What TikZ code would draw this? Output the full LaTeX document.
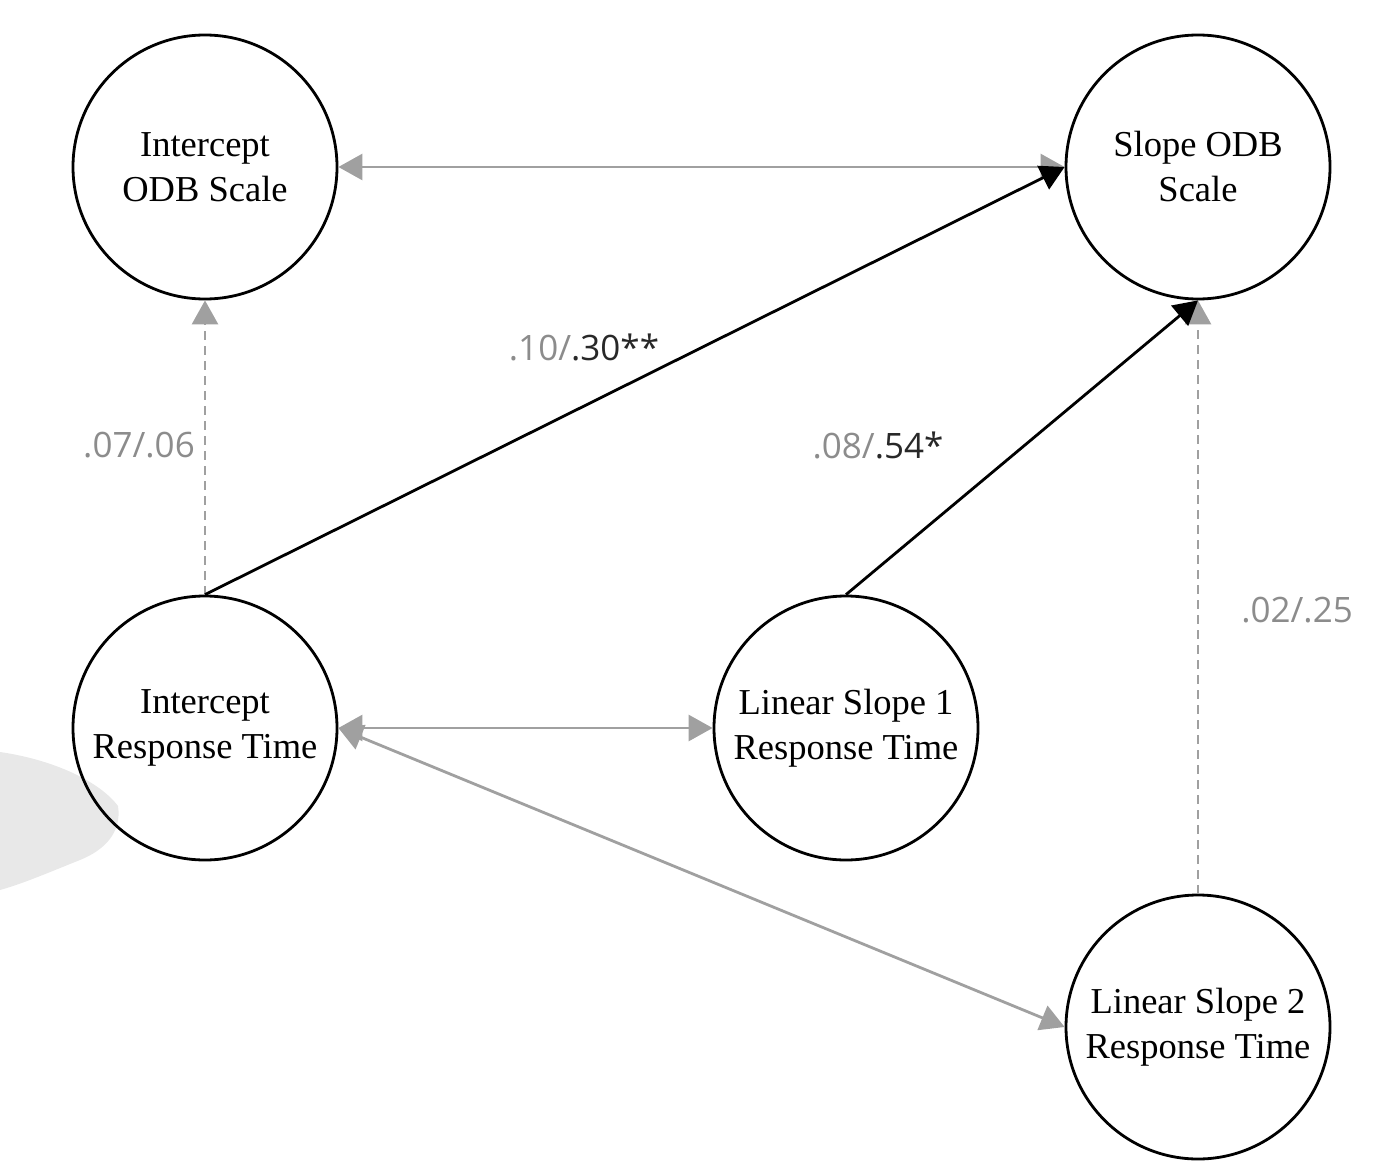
\documentclass[tikz,border=0pt]{standalone}
\usepackage{fontspec}
\setmainfont{Liberation Serif}
\newfontfamily\labfont{Open Sans}
\usetikzlibrary{arrows.meta}
\definecolor{lgrey}{RGB}{160,160,160}
\definecolor{tgrey}{RGB}{140,140,140}
\definecolor{dtext}{RGB}{40,40,40}
\begin{document}
\begin{tikzpicture}[x=1pt,y=-1pt,
  latent/.style={circle,draw=black,line width=2.8pt,minimum size=264pt,inner sep=0pt,
    align=center,font=\fontsize{36.5}{45}\selectfont},
  blackpath/.style={draw=black,line width=2.8pt,-{Triangle[length=24pt,width=26pt]}},
  greypath/.style={draw=lgrey,line width=2.8pt,-{Triangle[length=24pt,width=26pt]}},
  greydouble/.style={draw=lgrey,line width=2.8pt,{Triangle[length=24pt,width=26pt]}-{Triangle[length=24pt,width=26pt]}},
  greydash/.style={greypath,dash pattern=on 9pt off 6pt},
  coef/.style={font=\labfont\fontsize{35}{40}\selectfont,text=tgrey,inner sep=0pt}]
\useasboundingbox (0,0) rectangle (1394,1174);
% light grey blob at left
\fill[black!9] (0,752) .. controls (55,760) and (100,782) .. (118,806)
  .. controls (122,832) and (105,850) .. (80,860)
  .. controls (50,872) and (22,884) .. (0,890) -- cycle;
\node[latent] (iodb) at (205,167) {Intercept\\ODB Scale};
\node[latent] (sodb) at (1198,167) {Slope ODB\\Scale};
\node[latent] (irt) at (205,728) {Intercept\\Response Time};
\node[latent] (ls1) at (846,728) {Linear Slope 1\\Response Time};
\node[latent] (ls2) at (1198,1027) {Linear Slope 2\\Response Time};
% connectors
\draw[greydouble] (iodb.east) -- (sodb.west);
\draw[greydouble] (irt.east) -- (ls1.west);
\draw[greydouble] (irt.east) -- (ls2.west);
\draw[greydash] (irt.north) -- (iodb.south);
\draw[greydash] (ls2.north) -- (sodb.south);
\draw[blackpath] (irt.north) -- (sodb.west);
\draw[blackpath] (ls1.north) -- (sodb.south);
% labels
\node[coef] (l1) at (584,347) {.10/\textcolor{dtext}{.30**}};
\node[coef] (l2) at (139,445) {.07/.06};
\node[coef] (l3) at (878,445) {.08/\textcolor{dtext}{.54*}};
\node[coef] (l4) at (1297,610) {.02/.25};
\end{tikzpicture}
\end{document}
